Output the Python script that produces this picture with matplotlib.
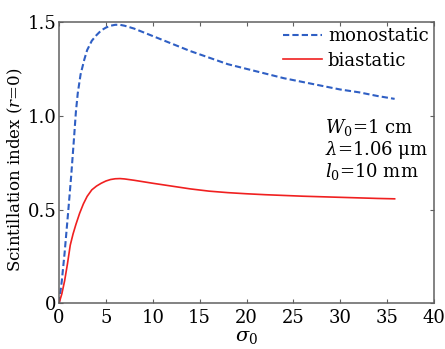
import numpy as np
from matplotlib import pyplot as plt

# values
sigma_mono = [0, 0.3, 0.6, 1.0, 1.3, 1.6, 1.8, 2.0, 2.3, 2.7, 3.0, 3.5, 4.0, 4.5, 5.0,
              5.5, 6.0, 6.5, 7.0, 8.0, 9.0, 10, 12, 14, 16, 18, 20, 22, 24, 26, 28,
              30, 32, 34, 35.8]
mono = [0, 0.12, 0.27, 0.50, 0.68, 0.88, 1.02, 1.12, 1.22, 1.30, 1.35, 1.40, 1.43,
        1.455, 1.47, 1.48, 1.485, 1.485, 1.48, 1.465, 1.445, 1.425, 1.385, 1.345,
        1.31, 1.275, 1.25, 1.225, 1.2, 1.18, 1.16, 1.14, 1.125, 1.105, 1.09]

sigma_bi = [0, 0.3, 0.6, 0.9, 1.2, 1.5, 1.8, 2.2, 2.6, 3.0, 3.5, 4.0, 4.5, 5.0, 5.5,
            6.0, 6.5, 7.0, 8.0, 9.0, 10, 12, 14, 16, 18, 20, 22, 24, 26, 28, 30, 32,
            34, 35.8]
bi = [0, 0.05, 0.12, 0.21, 0.31, 0.37, 0.42, 0.48, 0.53, 0.57, 0.605, 0.625, 0.64,
      0.652, 0.66, 0.664, 0.665, 0.663, 0.656, 0.648, 0.64, 0.625, 0.61, 0.598, 0.59,
      0.584, 0.579, 0.575, 0.571, 0.568, 0.565, 0.562, 0.559, 0.557]

xticks = [0, 5, 10, 15, 20, 25, 30, 35, 40]
yticks = [0, 0.5, 1.0, 1.5]
ytick_labels = ['0', '0.5', '1.0', '1.5']

plt.rcParams['font.family'] = 'DejaVu Serif'
plt.rcParams['mathtext.fontset'] = 'dejavuserif'
plt.rcParams['font.size'] = 12

fig = plt.figure(figsize=(4.45, 3.49), dpi=100)
ax = fig.add_axes([0.1326, 0.131, 0.8427, 0.806])

ax.plot(sigma_mono, mono, '--', color='#2f5fc4', lw=1.5, dashes=(3, 1.5), label='monostatic')
ax.plot(sigma_bi, bi, '-', color='#f02020', lw=1.2, label='biastatic')

ax.set_xlim(0, 40)
ax.set_ylim(0, 1.5)
ax.set_xticks(xticks)
ax.set_xticklabels([str(t) for t in xticks])
ax.set_yticks(yticks)
ax.set_yticklabels(ytick_labels)
ax.tick_params(direction='in', length=3, color='#606060', labelsize=13)
ax.tick_params(axis='y', pad=2)
ax.tick_params(axis='x', pad=4)
ax.tick_params(top=True, right=True)
for s in ax.spines.values():
    s.set_color('#606060')
    s.set_linewidth(1.1)

ax.set_xlabel(r'$\sigma_0$', fontsize=14, labelpad=1)
ax.set_ylabel(r'Scintillation index ($r$=0)', fontsize=12)
ax.yaxis.set_label_coords(-0.09, 0.475)

leg = ax.legend(loc='upper right', frameon=False, fontsize=13, handlelength=2.2,
                handletextpad=0.3, borderaxespad=0.1, labelspacing=0.35,
                borderpad=0.2)

ax.text(0.71, 0.546, r'$W_0$=1 cm' + '\n' + r'$\lambda$=1.06 $\mathrm{\mu}$m' + '\n' + r'$l_0$=10 mm',
        transform=ax.transAxes, fontsize=13, va='center', ha='left', linespacing=1.05)

fig.savefig('out.png', dpi=100)
plt.close(fig)
